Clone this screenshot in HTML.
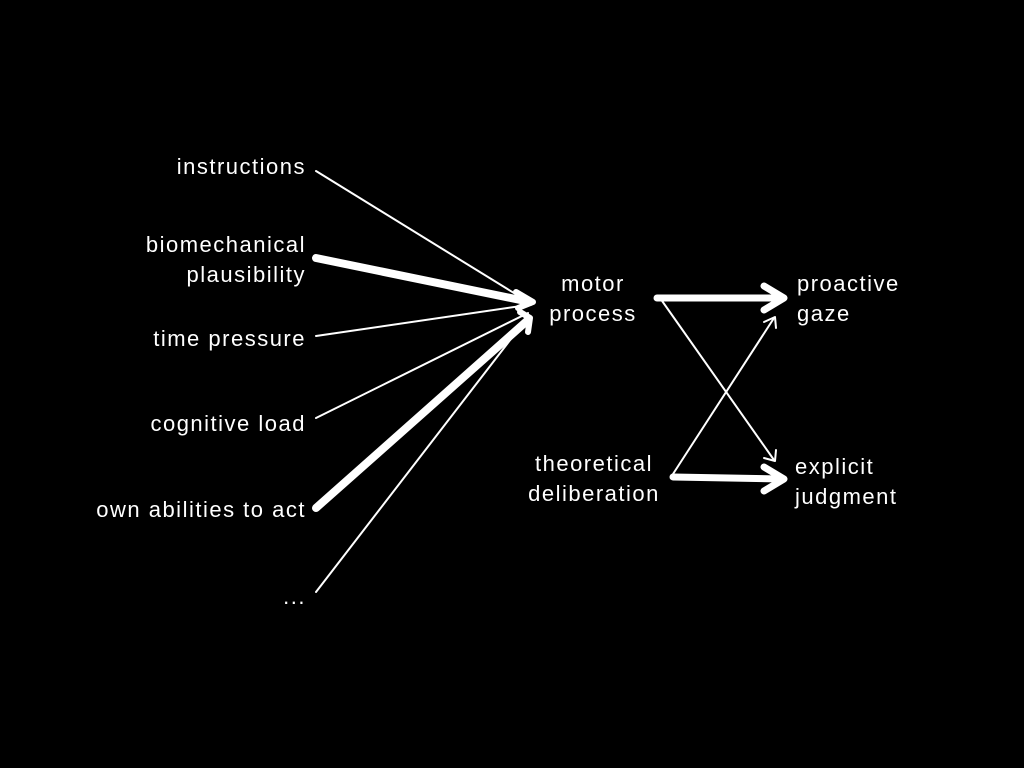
<!DOCTYPE html>
<html><head><style>
html,body{margin:0;background:#000;width:1024px;height:768px;overflow:hidden}
svg text{font-family:"Liberation Sans",sans-serif;font-size:22px;letter-spacing:1.5px;fill:#fff}
</style></head><body>
<svg width="1024" height="768" viewBox="0 0 1024 768">
<g text-anchor="end">
<text x="306" y="174">instructions</text>
<text x="306" y="252">biomechanical</text>
<text x="306" y="282">plausibility</text>
<text x="306" y="346">time pressure</text>
<text x="306" y="431">cognitive load</text>
<text x="306" y="517">own abilities to act</text>
<text x="306" y="604">...</text>
</g>
<g text-anchor="middle">
<text x="593" y="291">motor</text>
<text x="593" y="321">process</text>
<text x="594" y="471">theoretical</text>
<text x="594" y="501">deliberation</text>
</g>
<text x="797" y="291">proactive</text>
<text x="797" y="321">gaze</text>
<text x="795" y="474">explicit</text>
<text x="795" y="504">judgment</text>
<g stroke="#fff" fill="none" stroke-linecap="round" stroke-linejoin="round">
<line x1="316" y1="171" x2="522" y2="298" stroke-width="2"/>
<line x1="316" y1="258" x2="530" y2="302" stroke-width="8"/>
<path d="M516,292 L533,302 L518,308" stroke-width="6"/>
<line x1="316" y1="336" x2="528" y2="305" stroke-width="2"/>
<line x1="316" y1="418" x2="528" y2="313" stroke-width="2"/>
<line x1="316" y1="508" x2="528" y2="320" stroke-width="8"/>
<path d="M520,312 L530,318 L528,332" stroke-width="6"/>
<line x1="316" y1="592" x2="524" y2="322" stroke-width="2"/>
<line x1="657" y1="298" x2="782" y2="298" stroke-width="7"/>
<path d="M764,286 L784,298 L764,310" stroke-width="7"/>
<line x1="660" y1="298" x2="774" y2="460" stroke-width="2"/>
<path d="M764,458 L775,461 L776,450" stroke-width="2"/>
<line x1="673" y1="474" x2="774" y2="318" stroke-width="2"/>
<path d="M764,322 L775,317 L776,328" stroke-width="2"/>
<line x1="673" y1="477" x2="782" y2="479" stroke-width="7"/>
<path d="M764,467 L784,479 L764,491" stroke-width="7"/>
</g>
</svg>
</body></html>
